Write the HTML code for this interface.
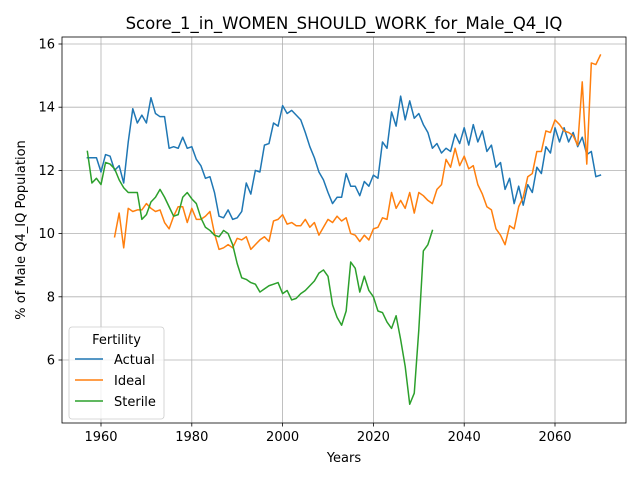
<!DOCTYPE html>
<html><head><meta charset="utf-8"><style>
body{margin:0;background:#fff;font-family:"Liberation Sans","DejaVu Sans",sans-serif}
text{font-family:"DejaVu Sans","Liberation Sans",sans-serif}
</style></head><body>
<svg id="chart" width="640" height="480" xmlns="http://www.w3.org/2000/svg"></svg>
<script>
const actualStart = 1957;
const actualValues = [12.4,12.4,12.4,11.95,12.5,12.45,12.0,12.15,11.6,12.9,13.95,13.5,13.75,13.5,14.3,13.8,13.7,13.7,12.7,12.75,12.7,13.05,12.7,12.75,12.35,12.15,11.75,11.8,11.3,10.55,10.5,10.75,10.45,10.5,10.7,11.6,11.25,12.0,11.95,12.8,12.85,13.5,13.4,14.05,13.8,13.9,13.75,13.6,13.2,12.75,12.4,11.95,11.7,11.3,10.95,11.15,11.15,11.9,11.5,11.5,11.2,11.65,11.5,11.85,11.75,12.9,12.7,13.85,13.4,14.35,13.6,14.2,13.65,13.8,13.45,13.2,12.7,12.85,12.55,12.7,12.6,13.15,12.85,13.35,12.8,13.45,12.9,13.25,12.6,12.8,12.1,12.25,11.4,11.75,10.95,11.5,10.9,11.55,11.3,12.1,11.9,12.75,12.55,13.35,12.9,13.35,12.9,13.2,12.75,13.05,12.5,12.6,11.8,11.85];
const idealStart = 1963;
const idealValues = [9.9,10.65,9.55,10.8,10.7,10.75,10.75,10.95,10.8,10.7,10.75,10.35,10.15,10.55,10.85,10.85,10.35,10.8,10.45,10.45,10.55,10.7,10.0,9.5,9.55,9.65,9.55,9.85,9.8,9.9,9.5,9.65,9.8,9.9,9.75,10.4,10.45,10.6,10.3,10.35,10.25,10.25,10.45,10.2,10.35,9.95,10.2,10.45,10.35,10.55,10.4,10.5,10.0,9.95,9.75,9.95,9.8,10.15,10.2,10.5,10.45,11.3,10.8,11.05,10.8,11.3,10.65,11.3,11.2,11.05,10.95,11.4,11.55,12.35,12.1,12.7,12.15,12.45,12.05,12.15,11.55,11.25,10.85,10.75,10.15,9.95,9.65,10.25,10.15,10.85,11.15,11.8,11.9,12.6,12.6,13.25,13.2,13.6,13.45,13.25,13.2,13.1,12.8,14.8,12.2,15.4,15.35,15.65];
const sterileStart = 1957;
const sterileValues = [12.6,11.6,11.75,11.55,12.25,12.2,12.05,11.7,11.45,11.3,11.3,11.3,10.45,10.6,11.0,11.15,11.4,11.15,10.85,10.55,10.6,11.15,11.3,11.1,10.95,10.5,10.2,10.1,9.95,9.9,10.1,10.0,9.65,9.05,8.6,8.55,8.45,8.4,8.15,8.25,8.35,8.4,8.45,8.1,8.2,7.9,7.95,8.1,8.2,8.35,8.5,8.75,8.85,8.65,7.75,7.35,7.1,7.55,9.1,8.9,8.15,8.65,8.2,8.0,7.55,7.5,7.2,7.0,7.4,6.65,5.8,4.6,4.95,6.95,9.45,9.65,10.1];
const xTicks = [1960,1980,2000,2020,2040,2060];
const yTicks = [6,8,10,12,14,16];

const svg = document.getElementById('chart');
const NS = 'http://www.w3.org/2000/svg';
const L=62,R=626,T=37,B=423;
const X = v => 101 + (v-1960)*(555-101)/100;
const Y = v => 360 - (v-6)*31.6;
function mk(tag, attrs, parent){const e=document.createElementNS(NS,tag);for(const k in attrs)e.setAttribute(k,attrs[k]);(parent||svg).appendChild(e);return e;}

const grid = mk('g',{});


xTicks.forEach(t=>{
  const l=mk('line',{x1:X(t),x2:X(t),y1:T,y2:B,stroke:'#b0b0b0','stroke-width':0.8},grid);
  
  
  const tk=mk('line',{x1:X(t),x2:X(t),y1:B,y2:B+3.5,stroke:'#000','stroke-width':0.8});
  
  
  const tx=mk('text',{x:X(t),y:B+18,'text-anchor':'middle','font-size':13,fill:'#000'});
  tx.textContent=t;
  
  
});
yTicks.forEach(t=>{
  const l=mk('line',{x1:L,x2:R,y1:Y(t),y2:Y(t),stroke:'#b0b0b0','stroke-width':0.8},grid);
  
  
  const tk=mk('line',{x1:L-3.5,x2:L,y1:Y(t),y2:Y(t),stroke:'#000','stroke-width':0.8});
  
  
  const tx=mk('text',{x:L-7,y:Y(t)+4.5,'text-anchor':'end','font-size':13,fill:'#000'});
  tx.textContent=t;
  
  
});

function series(vals,start,color,name){
  const d=vals.map((v,i)=>(i?'L':'M')+X(start+i).toFixed(2)+','+Y(v).toFixed(2)).join('');
  const p=mk('path',{d:d,fill:'none',stroke:color,'stroke-width':1.5,'stroke-linejoin':'round','stroke-linecap':'square'});
  
  
}
series(actualValues,actualStart,'#1f77b4','actual-line');
series(idealValues,idealStart,'#ff7f0e','ideal-line');
series(sterileValues,sterileStart,'#2ca02c','sterile-line');

const frame=mk('rect',{x:L,y:T,width:R-L,height:B-T,fill:'none',stroke:'#000','stroke-width':0.8});



const title=mk('text',{x:(L+R)/2,y:29,'text-anchor':'middle','font-size':16.5,fill:'#000'});
title.textContent='Score_1_in_WOMEN_SHOULD_WORK_for_Male_Q4_IQ';


const xt=mk('text',{x:(L+R)/2,y:462,'text-anchor':'middle','font-size':13,fill:'#000'});
xt.textContent='Years';


const yt=mk('text',{x:0,y:0,'text-anchor':'middle','font-size':13,fill:'#000',transform:'translate(25,230) rotate(-90)'});
yt.textContent='% of Male Q4_IQ Population';



const lg=mk('g',{});


mk('rect',{x:69,y:327,width:95,height:92,rx:3,fill:'#fff','fill-opacity':0.8,stroke:'#ccc','stroke-width':0.8},lg);
const lt=mk('text',{x:116.5,y:344,'text-anchor':'middle','font-size':13,fill:'#000'},lg);
lt.textContent='Fertility';


[['Actual','#1f77b4'],['Ideal','#ff7f0e'],['Sterile','#2ca02c']].forEach((e,i)=>{
  const y=359+i*21;
  const ln=mk('line',{x1:75,x2:103,y1:y,y2:y,stroke:e[1],'stroke-width':1.5},lg);
  
  
  const t=mk('text',{x:114,y:y+5,'font-size':13,fill:'#000'},lg);
  t.textContent=e[0];
  
  
});
</script>
</body></html>
